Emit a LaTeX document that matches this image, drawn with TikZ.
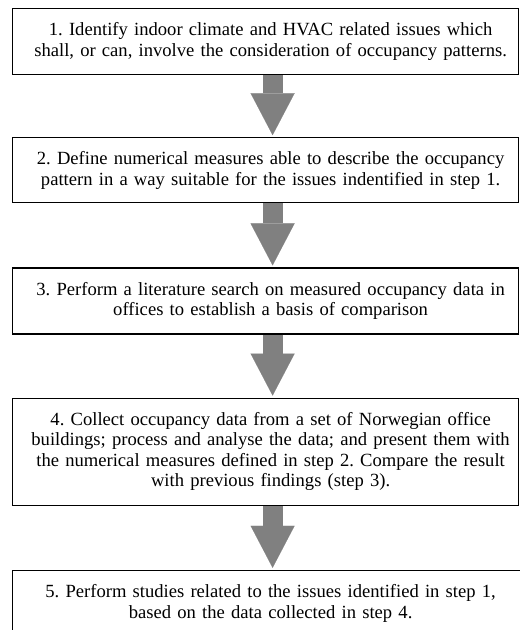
\documentclass[tikz,border=0pt]{standalone}
\usepackage{fontspec}
\setmainfont{Liberation Serif}
\usetikzlibrary{positioning, arrows.meta}
\definecolor{arrowgray}{RGB}{128,128,128}
\frenchspacing

\begin{document}
\begin{tikzpicture}[x=1pt, y=-1pt,
  box/.style = {draw, line width=1.2pt, text width=496pt, inner xsep=5pt, inner ysep=0pt,
                font=\fontsize{18.6}{20.5}\selectfont,
                execute at begin node={\parindent=0pt\leftskip=10pt plus 1fil\rightskip=0pt plus 1fil\parfillskip=0pt}},
  flow/.style = {draw=arrowgray, line width=20pt, shorten >=2pt,
                 -{Triangle[width=44pt, length=42pt, line width=0.1pt, fill=arrowgray]}}]
  \useasboundingbox (0,0) rectangle (520,630);
  \node[box, minimum height=66pt, anchor=north west] (s1) at (12,8)
    {1. Identify indoor climate and HVAC related issues which\\
     shall, or can, involve the consideration of occupancy patterns.};
  \node[box, minimum height=65pt, below=62pt of s1] (s2)
    {2. Define numerical measures able to describe the occupancy\\
     pattern in a way suitable for the issues indentified in step 1.};
  \node[box, minimum height=66pt, below=64pt of s2] (s3)
    {3. Perform a literature search on measured occupancy data in\\
     offices to establish a basis of comparison};
  \node[box, minimum height=107pt, below=63pt of s3] (s4)
    {4. Collect occupancy data from a set of Norwegian office\\
     buildings; process and analyse the data; and present them with\\
     the numerical measures defined in step 2. Compare the result\\
     with previous findings (step 3).};
  \node[box, minimum height=66pt, text width=500pt, execute at begin node={\leftskip=6pt plus 1fil},
        below=64pt of s4.south west, anchor=north west] (s5)
    {5. Perform studies related to the issues identified in step 1,\\
     based on the data collected in step 4.};
  % block arrows between the steps
  \draw[flow] ([xshift=7pt]s1.south) -- ([xshift=7pt]s2.north);
  \draw[flow] ([xshift=7pt]s2.south) -- ([xshift=7pt]s3.north);
  \draw[flow] ([xshift=7pt]s3.south) -- ([xshift=7pt]s4.north);
  \draw[flow] ([xshift=7pt]s4.south) -- ([xshift=7pt]s5.north -| s4.south);
\end{tikzpicture}
\end{document}
